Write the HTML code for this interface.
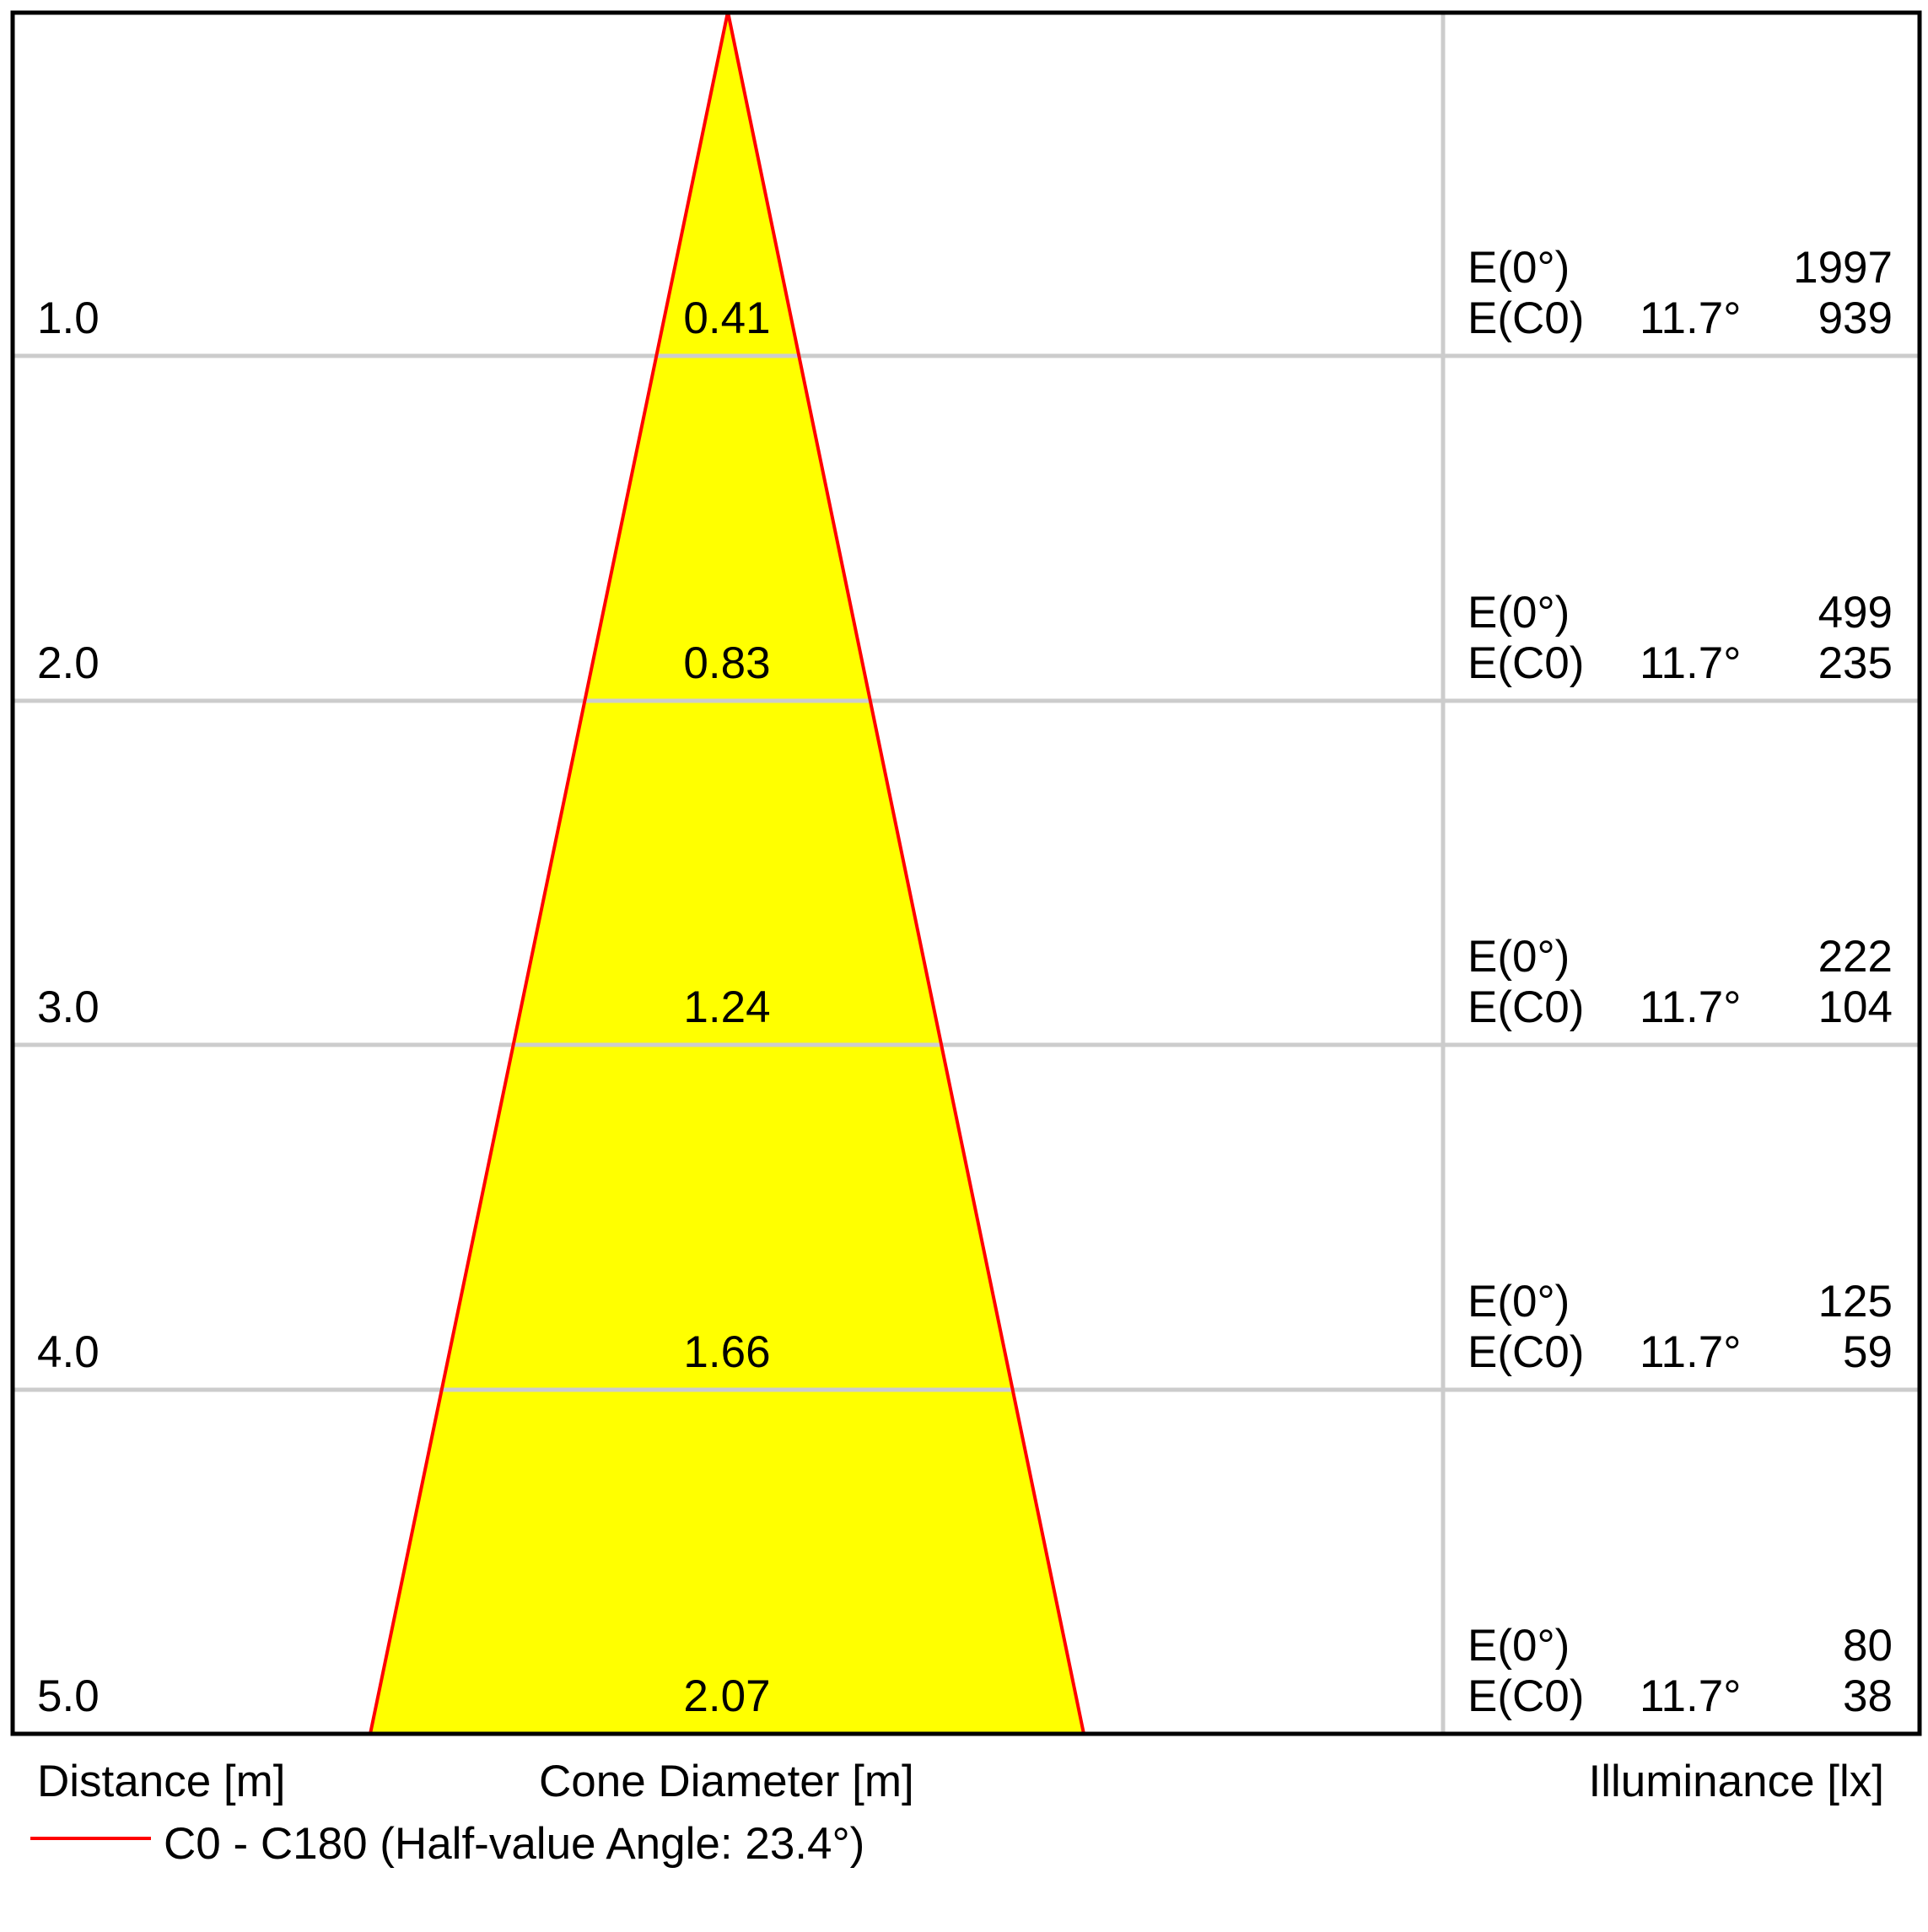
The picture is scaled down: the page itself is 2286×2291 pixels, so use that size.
<!DOCTYPE html>
<html><head><meta charset="utf-8"><style>
html,body{margin:0;padding:0;background:#fff}
svg text{font-family:"Liberation Sans",sans-serif;font-size:53px;fill:#000}
</style></head><body>
<svg width="2286" height="2286" viewBox="0 0 2286 2286" xmlns="http://www.w3.org/2000/svg">
<rect width="2286" height="2286" fill="#fff"/>
<polygon points="863,14 439,2056 1285,2056" fill="#ffff00"/>
<g stroke="#cccccc" stroke-width="5">
<line x1="14" y1="422" x2="2276" y2="422"/>
<line x1="14" y1="831" x2="2276" y2="831"/>
<line x1="14" y1="1239" x2="2276" y2="1239"/>
<line x1="14" y1="1648" x2="2276" y2="1648"/>
<line x1="1711" y1="14" x2="1711" y2="2056"/>
</g>
<polyline points="439,2056 863,14 1285,2056" fill="none" stroke="#ff0000" stroke-width="4"/>
<rect x="15" y="15" width="2261" height="2041" fill="none" stroke="#000" stroke-width="5"/>
<g>
<text x="44" y="395">1.0</text>
<text x="44" y="804">2.0</text>
<text x="44" y="1212">3.0</text>
<text x="44" y="1621">4.0</text>
<text x="44" y="2029">5.0</text>
</g>
<g text-anchor="middle">
<text x="862" y="395">0.41</text>
<text x="862" y="804">0.83</text>
<text x="862" y="1212">1.24</text>
<text x="862" y="1621">1.66</text>
<text x="862" y="2029">2.07</text>
</g>
<g>
<text x="1740" y="335">E(0°)</text><text x="1740" y="395">E(C0)</text><text x="1944" y="395">11.7°</text>
<text x="1740" y="744">E(0°)</text><text x="1740" y="804">E(C0)</text><text x="1944" y="804">11.7°</text>
<text x="1740" y="1152">E(0°)</text><text x="1740" y="1212">E(C0)</text><text x="1944" y="1212">11.7°</text>
<text x="1740" y="1561">E(0°)</text><text x="1740" y="1621">E(C0)</text><text x="1944" y="1621">11.7°</text>
<text x="1740" y="1969">E(0°)</text><text x="1740" y="2029">E(C0)</text><text x="1944" y="2029">11.7°</text>
</g>
<g text-anchor="end">
<text x="2244" y="335">1997</text><text x="2244" y="395">939</text>
<text x="2244" y="744">499</text><text x="2244" y="804">235</text>
<text x="2244" y="1152">222</text><text x="2244" y="1212">104</text>
<text x="2244" y="1561">125</text><text x="2244" y="1621">59</text>
<text x="2244" y="1969">80</text><text x="2244" y="2029">38</text>
</g>
<text x="44" y="2130">Distance [m]</text>
<text x="639" y="2130">Cone Diameter [m]</text>
<text x="2234" y="2130" text-anchor="end">Illuminance [lx]</text>
<line x1="36" y1="2180" x2="179" y2="2180" stroke="#ff0000" stroke-width="4"/>
<text x="194" y="2204">C0 - C180 (Half-value Angle: 23.4°)</text>
</svg>
</body></html>
